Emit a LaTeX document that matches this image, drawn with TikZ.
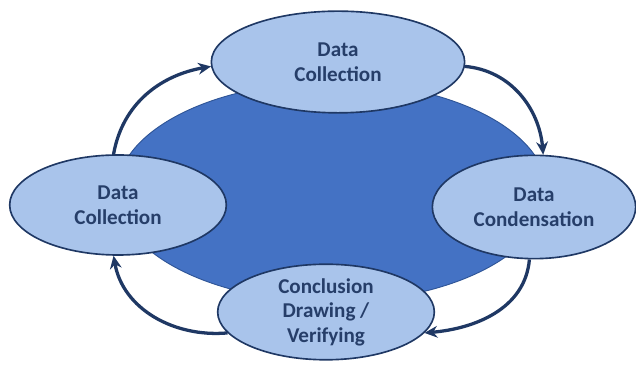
\documentclass[tikz,border=0pt]{standalone}
\usepackage{fontspec}
\setmainfont{Carlito}
\usepackage{tikz}
\usetikzlibrary{positioning,arrows.meta,shapes.geometric}
\usepackage{xcolor}
\definecolor{cyclefill}{RGB}{68,114,196}
\definecolor{cycleedge}{RGB}{47,85,151}
\definecolor{stagefill}{RGB}{169,196,235}
\definecolor{stagenavy}{RGB}{31,56,100}
\definecolor{stagetext}{RGB}{38,62,105}

\tikzset{
  stage/.style={ellipse, draw=stagenavy, line width=1.4pt, fill=stagefill,
    text=stagetext, align=center, inner sep=0pt,
    font=\bfseries\fontsize{18}{21}\selectfont},
  cyclearrow/.style={draw=stagenavy, line width=2.8pt,
    -{Stealth[length=11pt,width=10pt]}}
}

\begin{document}
\begin{tikzpicture}
      \useasboundingbox (0,0) rectangle (19.08,11.01);
      % background loop
      \node[ellipse, fill=cyclefill, draw=cycleedge, line width=0.8pt,
        minimum width=12.9cm, minimum height=6.6cm] (cycle) at (9.96,5.25) {};
      % the four stages
      \node[stage, minimum width=7.6cm, minimum height=3.05cm]
        (top) at (10.14,9.15) {Data\\Collection};
      \node[stage, minimum width=6.5cm, minimum height=3.0cm]
        (left) at (3.54,4.86) {Data\\Collection};
      \node[stage, minimum width=6.1cm, minimum height=3.1cm]
        (right) at (16.02,4.8) {Data\\Condensation};
      \node[stage, minimum width=6.5cm, minimum height=2.8cm]
        (bottom) at (9.78,1.65) {Conclusion\\Drawing /\\Verifying};
      % arrows round the loop
      \draw[cyclearrow] (left.95) to[out=80,in=190] (top.182);
      \draw[cyclearrow] (top.-2) to[out=-5,in=95] (right.80);
      \draw[cyclearrow] (right.-95) to[out=-95,in=5] (bottom.-12);
      \draw[cyclearrow] (bottom.192) to[out=185,in=-80] (left.-95);
    \end{tikzpicture}
\end{document}
